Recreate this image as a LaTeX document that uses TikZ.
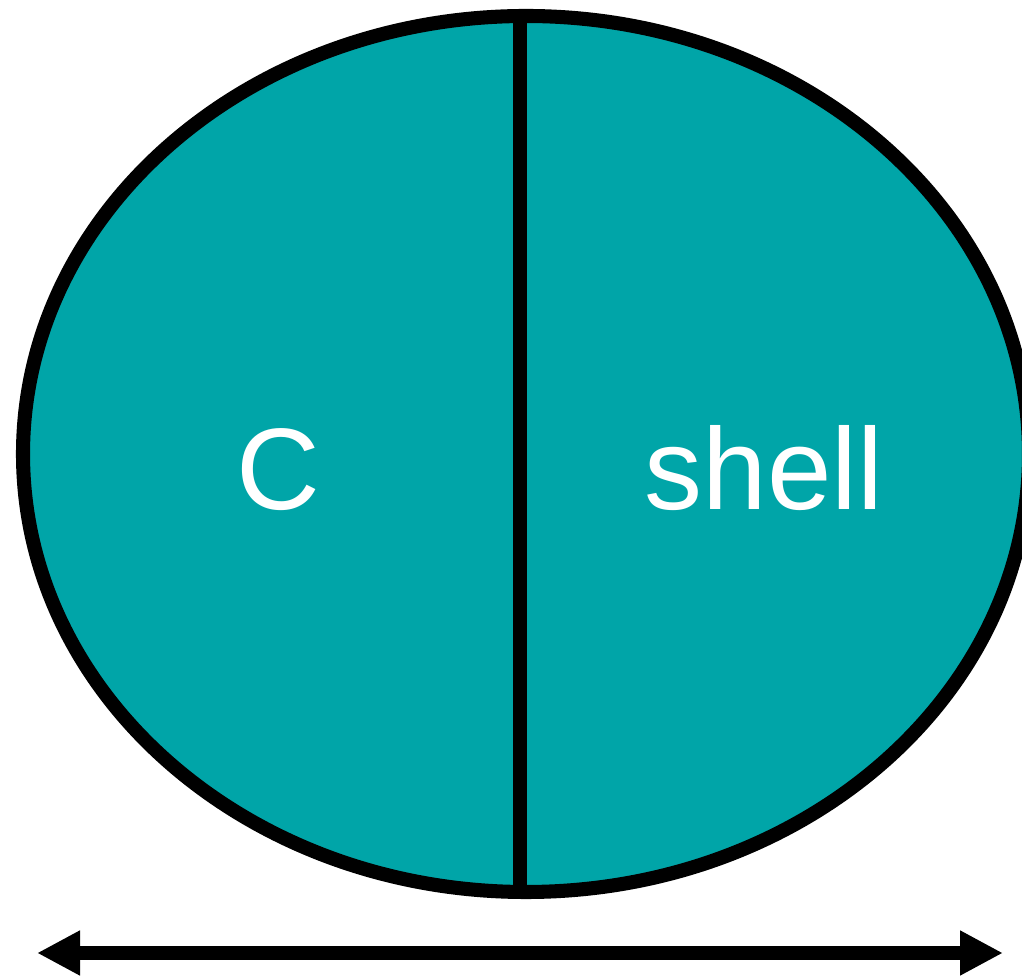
\documentclass[tikz,border=0pt]{standalone}
\usepackage{fontspec}
\setmainfont{Liberation Sans}
\usetikzlibrary{positioning, arrows.meta}
\definecolor{cellteal}{RGB}{0,165,168}

\begin{document}
\begin{tikzpicture}[
    outline/.style={draw=black, line width=4pt},
    label/.style={text=white, font=\fontsize{33}{36}\selectfont, anchor=base, inner sep=0pt},
    arr/.style={{Triangle[length=0.43cm, width=0.42cm]}-{Triangle[length=0.43cm, width=0.42cm]}, line width=3.8pt, draw=black}
]
    \clip (0, 0) rectangle (10.22, 9.76);
    \useasboundingbox (0, 0) rectangle (10.22, 9.76);

    \coordinate (ctr) at (5.26, 5.22);
    \coordinate (top) at (5.20, 9.62);
    \coordinate (bot) at (5.20, 0.82);

    \filldraw[outline, fill=cellteal] (ctr) ellipse [x radius=5.03, y radius=4.38];
    \draw[outline] (top) -- (bot);

    \node[label] (core) at (2.78, 4.66) {C};
    \node[label] (shell) at (7.64, 4.66) {shell};

    \coordinate (wl) at (0.37, 0.23);
    \coordinate (wr) at (10.03, 0.23);
    \draw[arr] (wl) -- (wr);
\end{tikzpicture}
\end{document}
